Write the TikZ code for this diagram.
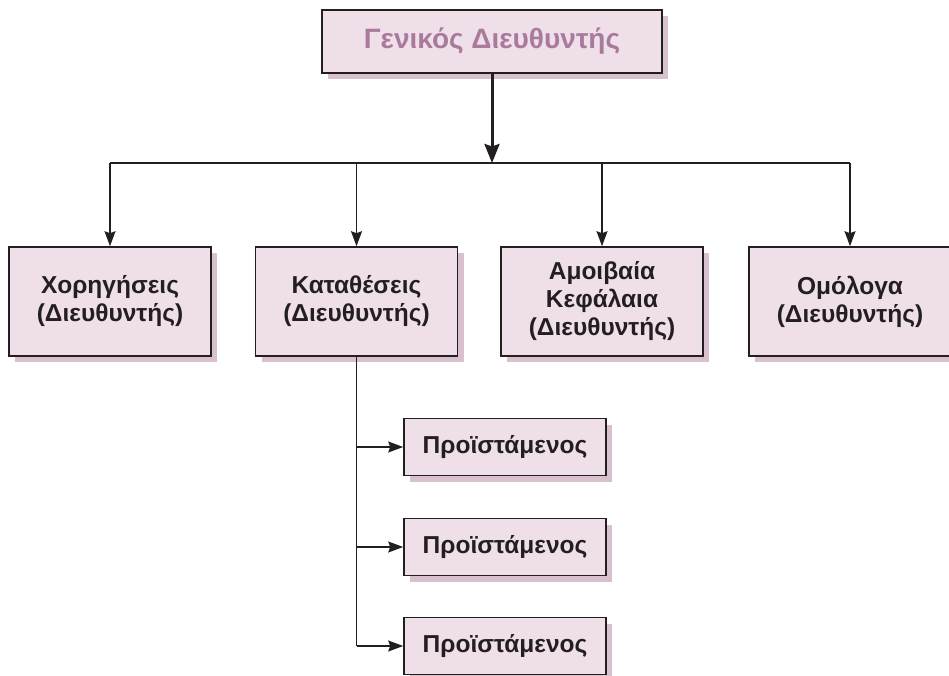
\documentclass[tikz,border=0pt]{standalone}
\usepackage{fontspec}
\setmainfont{Liberation Sans}
\usetikzlibrary{arrows.meta,shadows}
\definecolor{boxfill}{HTML}{EEDFE8}
\definecolor{boxshade}{HTML}{D8C0CE}
\definecolor{titletext}{HTML}{A97A9C}
\definecolor{ink}{HTML}{231F20}
\tikzset{
  orgbox/.style={draw=ink, line width=1.6pt, fill=boxfill, rectangle,
    align=center, inner sep=0pt,
    drop shadow={shadow xshift=6pt, shadow yshift=-6pt, fill=boxshade, opacity=1},
    font=\fontsize{24.5}{28}\selectfont\bfseries, text=ink},
  headbox/.style={orgbox, minimum width=340pt, minimum height=63pt,
    font=\fontsize{28}{32}\selectfont\bfseries, text=titletext},
  deptbox/.style={orgbox, minimum width=202pt, minimum height=109pt},
  subbox/.style={orgbox, minimum width=202pt, minimum height=57pt},
  link/.style={draw=ink, line width=1.2pt, -{Stealth[length=15pt,width=11pt,inset=2pt]}},
  mainlink/.style={draw=ink, line width=3pt, -{Stealth[length=19pt,width=15pt,inset=2.5pt]}},
  wire/.style={draw=ink, line width=1.2pt}
}
\begin{document}
\begin{tikzpicture}[x=1pt,y=-1pt]
\useasboundingbox (0,0) rectangle (949,676);

% top level
\node[headbox] (gm) at (492,41.5) {Γενικός Διευθυντής};

% department level
\node[deptbox] (d1) at (110,301.5) {Χορηγήσεις\\(Διευθυντής)};
\node[deptbox] (d2) at (356.5,301.5) {Καταθέσεις\\(Διευθυντής)};
\node[deptbox] (d3) at (602,301.5) {Αμοιβαία\\Κεφάλαια\\(Διευθυντής)};
\node[deptbox] (d4) at (850,301.5) {Ομόλογα\\(Διευθυντής)};

% supervisors under deposits
\node[subbox] (s1) at (505,447) {Προϊστάμενος};
\node[subbox] (s2) at (505,547) {Προϊστάμενος};
\node[subbox] (s3) at (505,646) {Προϊστάμενος};

% distribution bus
\coordinate (bus) at (492,163);
\coordinate (busL) at (d1.north |- bus);
\coordinate (busR) at (d4.north |- bus);
\draw[wire] (busL) -- (busR);
\draw[mainlink] (gm.south) -- (bus);
\foreach \d in {d1,d2,d3,d4}
  \draw[link] (\d.north |- bus) -- (\d.north);

% supervisor spine
\coordinate (spine) at (d2.south |- s3.west);
\draw[wire] (d2.south) -- (spine);
\foreach \s in {s1,s2,s3}
  \draw[link] (d2.south |- \s.west) -- (\s.west);
\end{tikzpicture}
\end{document}
